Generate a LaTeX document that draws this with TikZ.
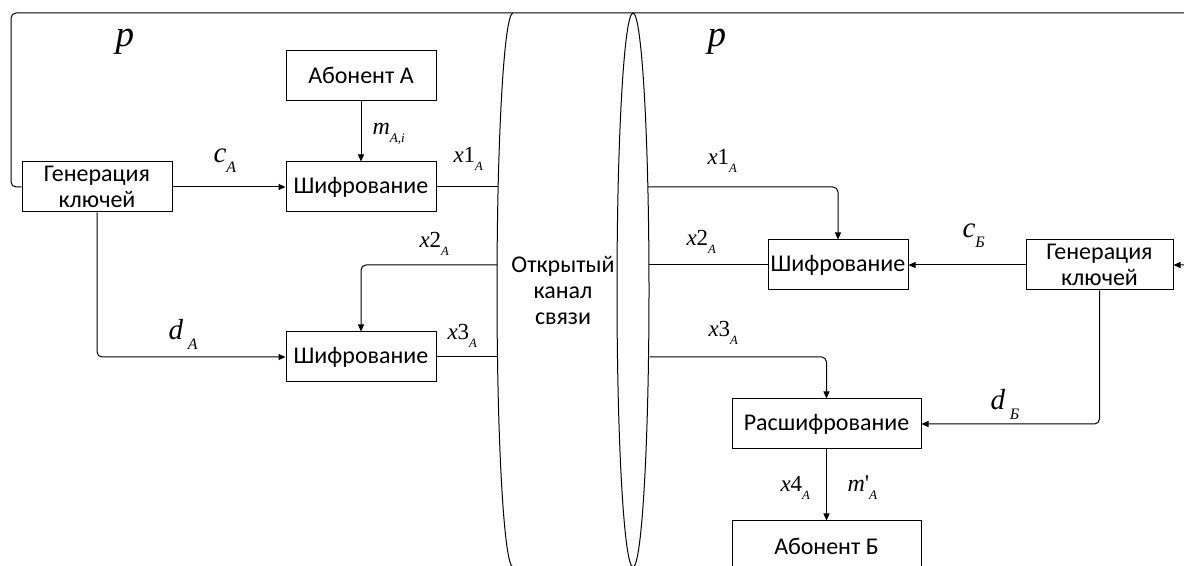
\documentclass[tikz,border=0pt]{standalone}
\usepackage{fontspec}
\usepackage{graphicx}
\setmainfont{Carlito}
\newfontfamily\lblfont{Liberation Serif}
\usetikzlibrary{arrows.meta}
\newcommand{\sbs}[1]{\raisebox{-0.33em}{\scalebox{0.55}{\textit{#1}}}}

\begin{document}
\begin{tikzpicture}[
  x=0.5pt, y=-0.5pt,
  font=\fontsize{12}{13}\selectfont,
  line width=0.5pt,
  arrow/.style={-{Triangle[length=3.5pt, width=3pt]}},
  link/.style={rounded corners=2.5pt},
  box/.style={draw, minimum height=25pt, minimum width=75pt, inner sep=1pt, align=center},
  lbl/.style={anchor=base west, inner sep=0pt, font=\lblfont\fontsize{11.5}{12}\selectfont},
  biglbl/.style={lbl, font=\lblfont\fontsize{14.5}{15}\selectfont},
  plbl/.style={lbl, font=\lblfont\fontsize{18.5}{19}\selectfont}
]
\useasboundingbox (0,0) rectangle (1184,566);
\clip (0,0) rectangle (1184,566);

% Subscriber A side.
\node[box] (genA) at (97,187) {Генерация\\ключей};
\node[box] (abA) at (361,75.5) {Абонент А};
\node[box] (encA1) at (361,187) {Шифрование};
\node[box] (encA2) at (361,357) {Шифрование};

% Open channel (cylinder lying on its side).
\draw (513,13) arc[start angle=270, end angle=90, x radius=16, y radius=277];
\draw (633,290) ellipse [x radius=16, y radius=277];
\node[align=center] (chan) at (563,290) {Открытый\\канал\\связи};
\coordinate (a1) at (498,187);
\coordinate (a2) at (497,265);
\coordinate (a3) at (497.5,357);
\coordinate (b1) at (648,187);
\coordinate (b2) at (649,265);
\coordinate (b3) at (649.5,357);

% Subscriber B side.
\node[box, minimum width=70pt] (encB) at (838,265) {Шифрование};
\node[box, minimum width=73.5pt] (genB) at (1099.5,265) {Генерация\\ключей};
\node[box, minimum width=94.5pt] (dec) at (826.5,424) {Расшифрование};
\node[box, minimum width=94.5pt] (abB) at (826.5,546) {Абонент Б};

% Shared parameter p.
\coordinate (pL) at (11,13);
\coordinate (pR) at (1200,13);
\draw[arrow, link] (genA.west) -| (pL) -- (pR) |- (genB.east);

% Connectors, A side.
\draw[arrow] (abA) -- (encA1);
\draw[arrow] (genA) -- (encA1);
\draw (encA1) -- (a1);
\draw[arrow, link] (a2) -| (encA2.north);
\draw[arrow, link] (genA.south) |- (encA2.west);
\draw (encA2) -- (a3);

% Connectors, B side.
\draw[arrow, link] (b1) -| (encB.north);
\draw (b2) -- (encB.west);
\draw[arrow] (genB) -- (encB);
\draw[arrow, link] (b3) -| (dec.north);
\draw[arrow, link] (genB.south) |- (dec.east);
\draw[arrow] (dec) -- (abB);

% Labels.
\node[plbl] (pA) at (115,47) {\textit{p}};
\node[plbl] (pB) at (707,47) {\textit{p}};
\node[lbl, font=\lblfont\fontsize{12}{13}\selectfont] (mA) at (372,135) {\textit{m}\sbs{A,i}};
\node[biglbl] (cA) at (213,163) {\textit{c}\sbs{A}};
\node[biglbl] (dA) at (168,340) {\textit{d}\,\sbs{A}};
\node[lbl] (x1a) at (453,163) {\textit{x}1\sbs{A}};
\node[lbl] (x2a) at (419,248) {\textit{x}2\sbs{A}};
\node[lbl] (x3a) at (447,340) {\textit{x}3\sbs{A}};
\node[lbl] (x1b) at (707,165) {\textit{x}1\sbs{A}};
\node[lbl] (x2b) at (686,246) {\textit{x}2\sbs{A}};
\node[lbl] (x3b) at (708,337) {\textit{x}3\sbs{A}};
\node[biglbl] (cB) at (962,238) {\textit{c}\sbs{Б}};
\node[biglbl] (dB) at (990,410) {\textit{d}\,\sbs{Б}};
\node[lbl] (x4a) at (780,492) {\textit{x}4\sbs{A}};
\node[lbl, font=\lblfont\fontsize{12}{13}\selectfont] (mB) at (847,492) {\textit{m}'\sbs{A}};

\end{tikzpicture}
\end{document}
